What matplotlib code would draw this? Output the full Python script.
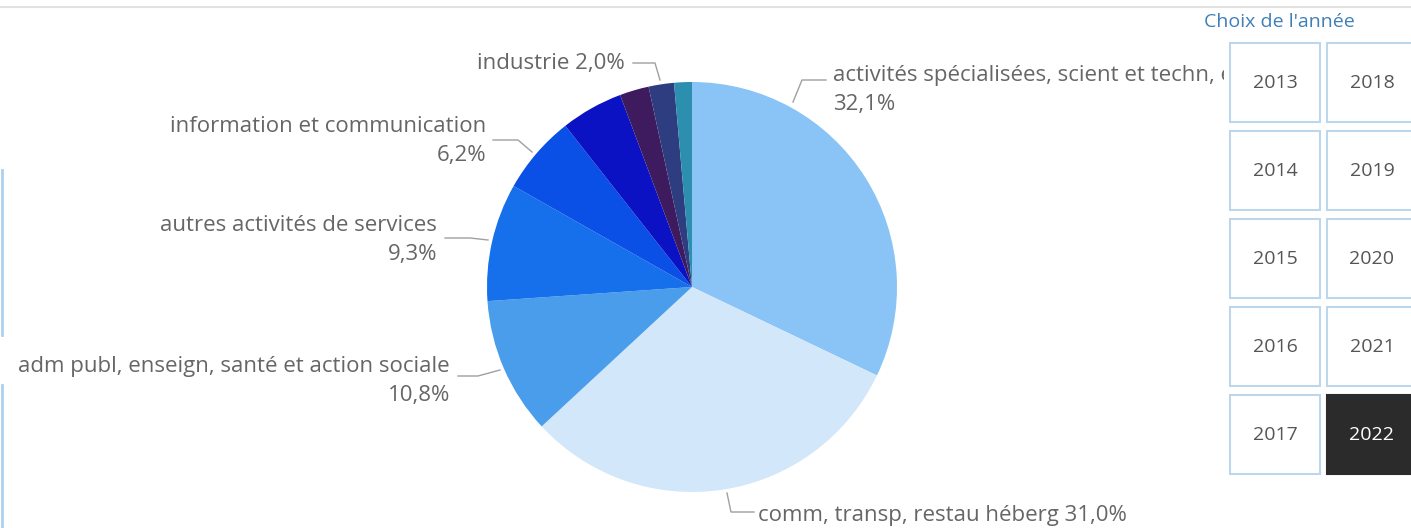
import matplotlib.pyplot as plt
from matplotlib.patches import Rectangle

plt.rcParams['font.family'] = ['Open Sans', 'DejaVu Sans']

# data (clockwise from 12 o'clock); first name is cut by the slicer in the source
sectors = ["activités spécialisées, scient et techn, e",
           "comm, transp, restau héberg",
           "adm publ, enseign, santé et action sociale",
           "autres activités de services",
           "information et communication",
           "construction",
           "activités financières et d'assurance",
           "industrie",
           "activités immobilières"]
shares = [32.1, 31.0, 10.8, 9.3, 6.2, 4.9, 2.3, 2.0, 1.4]
colors = ['#8AC3F5', '#D3E7FA', '#4A9DEB', '#1670EB', '#0A4FE6',
          '#0A12C4', '#3E1A5E', '#2E3D7F', '#2C8FB0']

years_col1 = [2013, 2014, 2015, 2016, 2017]
years_col2 = [2018, 2019, 2020, 2021, 2022]
selected_year = 2022

# label layout in pixels: leader polyline, text anchor, alignment, two lines?
label_layout = {
    0: dict(line=[(793, 102), (802, 80), (826, 80)], xy=(833, 90), ha='left', two=True),
    1: dict(line=[(727, 493), (731, 512), (754, 512)], xy=(758, 516), ha='left', two=False),
    2: dict(line=[(500, 370), (478, 376), (458, 376)], xy=(450, 381), ha='right', two=True),
    3: dict(line=[(488, 240), (470, 238), (445, 238)], xy=(437, 240), ha='right', two=True),
    4: dict(line=[(532, 152), (518, 140), (493, 140)], xy=(486, 141), ha='right', two=True),
    7: dict(line=[(660, 80), (655, 63), (633, 63)], xy=(625, 63), ha='right', two=False),
}

W, H = 1411, 528
fig = plt.figure(figsize=(W / 100, H / 100), dpi=100)

# pie
cx, cy, r = 692, 287, 205
ax = fig.add_axes([(cx - r) / W, (H - cy - r) / H, 2 * r / W, 2 * r / H])
ax.pie(shares, colors=colors, startangle=90, counterclock=False,
       wedgeprops=dict(linewidth=0))
ax.set_xlim(-1, 1)
ax.set_ylim(-1, 1)
ax.set_aspect('equal')
ax.axis('off')

# overlay in pixel coords
ov = fig.add_axes([0, 0, 1, 1])
ov.set_xlim(0, W)
ov.set_ylim(H, 0)
ov.axis('off')
ov.patch.set_alpha(0)

for i, lay in label_layout.items():
    pct = f"{shares[i]:.1f}".replace('.', ',') + '%'
    txt = sectors[i] + ('\n' if lay['two'] else ' ') + pct
    xs, ys = zip(*lay['line'])
    ov.plot(xs, ys, color='#A0A0A0', lw=1, zorder=1)
    ov.text(lay['xy'][0], lay['xy'][1], txt, ha=lay['ha'], va='center',
            fontsize=16, color='#666666', linespacing=1.55, zorder=1,
            multialignment=lay['ha'])

# clip area for slicer
ov.add_patch(Rectangle((1224, 0), W - 1224, H, facecolor='white', edgecolor='none', zorder=2))

# slicer
ov.text(1204, 22, "Choix de l'année", fontsize=14, color='#3F7FB8',
        ha='left', va='center', zorder=3)
row_tops = [43, 131, 219, 307, 395]
bh = 79
for col_x, years in [(1230, years_col1), (1327, years_col2)]:
    for top, yr in zip(row_tops, years):
        sel = yr == selected_year
        ov.add_patch(Rectangle((col_x, top), 90, bh,
                               facecolor='#2B2B2B' if sel else 'white',
                               edgecolor='#2B2B2B' if sel else '#BCD6EC',
                               lw=1.5, zorder=3))
        ov.text(col_x + 45, top + bh / 2 + 1, str(yr), fontsize=14,
                color='white' if sel else '#555555', ha='center', va='center', zorder=4)

# frame fragments
ov.plot([0, W], [7, 7], color='#E2E2E2', lw=1.5, zorder=4)
ov.plot([2, 2], [170, 335], color='#A9D2F0', lw=2, zorder=4)
ov.plot([2, 2], [385, 528], color='#A9D2F0', lw=2, zorder=4)

fig.savefig('out.png', dpi=100)
